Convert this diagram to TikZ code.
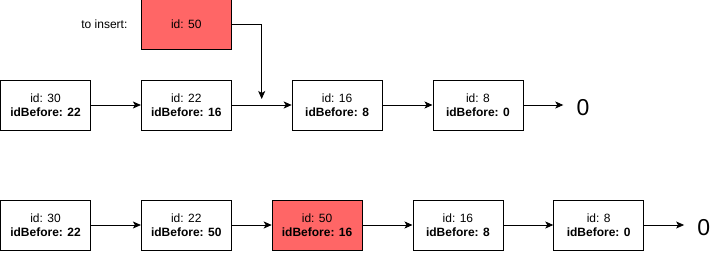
\documentclass[tikz,border=0pt]{standalone}
\usepackage{fontspec}
\setmainfont{Liberation Sans}
\usetikzlibrary{positioning, calc, arrows.meta}

\definecolor{newred}{HTML}{FF6666}

\begin{document}
\begin{tikzpicture}[
    item/.style={rectangle, draw=black, fill=white, line width=0.8pt,
                 minimum width=90pt, minimum height=50pt, align=center,
                 font=\fontsize{12}{14.5}\selectfont},
    fresh/.style={item, fill=newred},
    link/.style={-{Stealth[length=8pt, width=7pt, inset=2pt]}, line width=0.8pt},
    nil/.style={inner sep=0pt, font=\fontsize{23}{23}\selectfont}]
\useasboundingbox (0,0) rectangle (721pt,-252pt);

% list before the insert
\node[item] (a30) at (45.5pt,-105pt) {id: 30\\\textbf{idBefore: 22}};
\node[item, right=50pt of a30] (a22) {id: 22\\\textbf{idBefore: 16}};
\node[item, right=60pt of a22] (a16) {id: 16\\\textbf{idBefore: 8}};
\node[item, right=50pt of a16] (a8) {id: 8\\\textbf{idBefore: 0}};
\coordinate[right=40pt of a8] (aend);
\node[nil, right=13pt of aend, yshift=-3pt] (azero) {0};

\node[fresh, above=29.5pt of a22] (ins) {id: 50};
\node[left=10pt of ins, font=\fontsize{12}{14.5}\selectfont] (inslabel) {to insert:};
\coordinate (drop) at ($(a22.east)!0.5!(a16.west) + (0,6pt)$);

\draw[link] (a30) -- (a22);
\draw[link] (a22) -- (a16);
\draw[link] (a16) -- (a8);
\draw[link] (a8) -- (aend);
\draw[link] (ins.east) -| (drop);

% list after the insert
\node[item] (b30) at (45.5pt,-225pt) {id: 30\\\textbf{idBefore: 22}};
\node[item, right=50pt of b30] (b22) {id: 22\\\textbf{idBefore: 50}};
\node[fresh, right=40pt of b22] (b50) {id: 50\\\textbf{idBefore: 16}};
\node[item, right=50pt of b50] (b16) {id: 16\\\textbf{idBefore: 8}};
\node[item, right=50pt of b16] (b8) {id: 8\\\textbf{idBefore: 0}};
\coordinate[right=40pt of b8] (bend);
\node[nil, right=13pt of bend, yshift=-3pt] (bzero) {0};

\draw[link] (b30) -- (b22);
\draw[link] (b22) -- (b50);
\draw[link] (b50) -- (b16);
\draw[link] (b16) -- (b8);
\draw[link] (b8) -- (bend);
\end{tikzpicture}
\end{document}
